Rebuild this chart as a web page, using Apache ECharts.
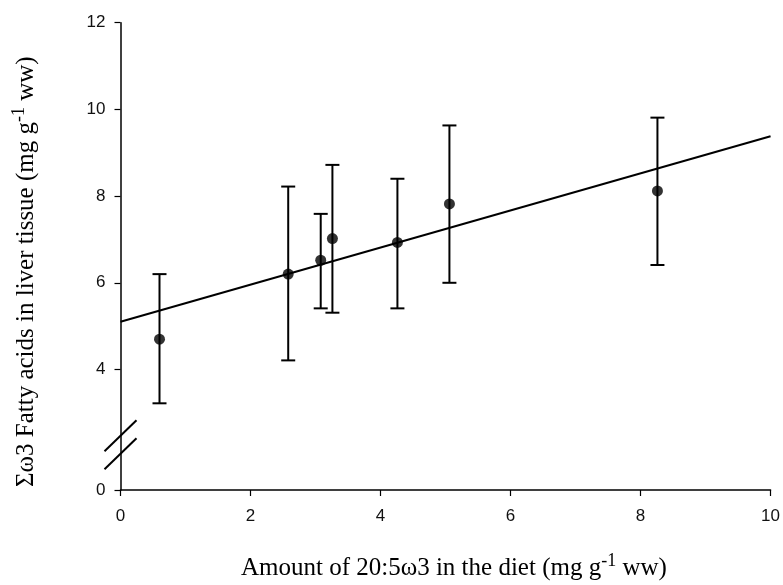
<!DOCTYPE html>
<html>
<head>
<meta charset="utf-8">
<script src="https://cdn.jsdelivr.net/npm/echarts@6/dist/echarts.min.js"></script>
<style>
  html, body { margin: 0; padding: 0; background: #fff; }
  #chart { width: 783px; height: 585px; }
</style>
</head>
<body>
<div id="chart"></div>
<script>
// Dietary 20:5ω3 (x) versus Σω3 fatty acids in liver tissue (mean ± error)
const dietEPA   = [0.60, 2.58, 3.08, 3.26, 4.26, 5.06, 8.26];
const liverMean = [4.70, 6.20, 6.52, 7.02, 6.93, 7.82, 8.12];
const errLow    = [3.22, 4.21, 5.41, 5.31, 5.41, 6.00, 6.41];
const errHigh   = [6.20, 8.22, 7.59, 8.72, 8.40, 9.63, 9.81];

// Fitted regression line end points
const fitX = [0, 10];
const fitY = [5.10, 9.38];

// Y axis: broken between 0 and 4; the lowest axis position carries the "0" label
const yBreakBase = 1.22;
const yTicks = [yBreakBase, 4, 6, 8, 10, 12];

const chart = echarts.init(document.getElementById('chart'));

const ink = '#000';
const tickFont = { color: '#111', fontSize: 17, fontFamily: 'Liberation Sans, Arial, sans-serif' };

const option = {
  backgroundColor: '#fff',
  animation: false,
  grid: { left: 120.5, right: 12.3, top: 22.7, bottom: 95, containLabel: false },
  xAxis: {
    type: 'value', min: 0, max: 10, interval: 2,
    splitLine: { show: false },
    axisLine: { show: true, lineStyle: { color: ink, width: 1.5 } },
    axisTick: { show: true, length: 6, inside: false, lineStyle: { color: ink, width: 1.2 } },
    axisLabel: Object.assign({ margin: 18 }, tickFont)
  },
  yAxis: {
    type: 'value', min: yBreakBase, max: 12,
    splitLine: { show: false },
    axisLine: { show: true, onZero: false, lineStyle: { color: ink, width: 1.5 } },
    axisTick: { show: true, length: 6, customValues: yTicks, lineStyle: { color: ink, width: 1.2 } },
    axisLabel: Object.assign({
      margin: 15,
      customValues: yTicks,
      formatter: v => (v < 2 ? '0' : String(Math.round(v)))
    }, tickFont)
  },
  series: [
    {
      type: 'line',
      data: fitX.map((x, i) => [x, fitY[i]]),
      symbol: 'none',
      lineStyle: { color: ink, width: 2 },
      z: 2
    },
    {
      type: 'custom',
      data: dietEPA.map((x, i) => [x, errLow[i], errHigh[i]]),
      renderItem: function (params, api) {
        const x = api.value(0);
        const lo = api.coord([x, api.value(1)]);
        const hi = api.coord([x, api.value(2)]);
        const cap = 7;
        const style = { stroke: ink, lineWidth: 2 };
        return {
          type: 'group',
          children: [
            { type: 'line', shape: { x1: lo[0], y1: lo[1], x2: hi[0], y2: hi[1] }, style },
            { type: 'line', shape: { x1: lo[0] - cap, y1: lo[1], x2: lo[0] + cap, y2: lo[1] }, style },
            { type: 'line', shape: { x1: hi[0] - cap, y1: hi[1], x2: hi[0] + cap, y2: hi[1] }, style }
          ]
        };
      },
      z: 3
    },
    {
      type: 'scatter',
      data: dietEPA.map((x, i) => [x, liverMean[i]]),
      symbol: 'circle',
      symbolSize: 11,
      itemStyle: { color: ink },
      z: 4
    }
  ]
};

chart.setOption(option);

// Axis titles and the break marks on the y axis
const serif = 'Liberation Serif, Times New Roman, serif';
const titleRich = {
  n: { fontSize: 25, fontFamily: serif, color: '#111' },
  s: { fontSize: 18, fontFamily: serif, color: '#111', padding: [0, 0, 14, 0] }
};

const axisX0 = chart.convertToPixel({ gridIndex: 0 }, [0, yBreakBase]);
const breakY = chart.convertToPixel({ gridIndex: 0 }, [0, 2.6])[1];

chart.setOption({
  graphic: [
    {
      type: 'text',
      left: 241, top: 552,
      style: { text: '{n|Amount of 20:5ω3 in the diet (mg g}{s|-1}{n| ww)}', rich: titleRich }
    },
    {
      type: 'text',
      x: 10, y: 487,
      rotation: Math.PI / 2,
      style: { text: '{n|Σω3 Fatty acids in liver tissue (mg g}{s|-1}{n| ww)}', rich: titleRich }
    },
    {
      type: 'line',
      shape: { x1: axisX0[0] - 16, y1: breakY + 21, x2: axisX0[0] + 16, y2: breakY - 10 },
      style: { stroke: ink, lineWidth: 2 }
    },
    {
      type: 'line',
      shape: { x1: axisX0[0] - 16, y1: breakY + 39, x2: axisX0[0] + 16, y2: breakY + 8 },
      style: { stroke: ink, lineWidth: 2 }
    }
  ]
});
</script>
</body>
</html>
